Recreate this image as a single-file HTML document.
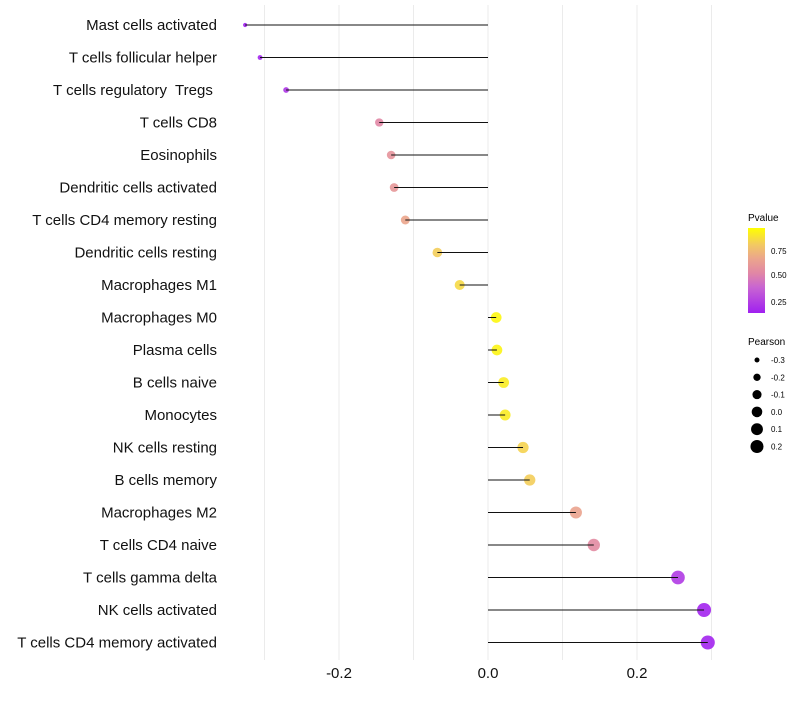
<!DOCTYPE html>
<html><head><meta charset="utf-8">
<style>
body{margin:0;background:#fff;font-family:"Liberation Sans",sans-serif;}
svg text{font-family:"Liberation Sans",sans-serif;white-space:pre;}
</style></head>
<body>
<svg id="chart" width="800" height="700" xmlns="http://www.w3.org/2000/svg">
<defs>
<linearGradient id="pg" x1="0" y1="1" x2="0" y2="0">
<stop offset="0" stop-color="#a020f0"/>
<stop offset="0.3" stop-color="#c864d2"/>
<stop offset="0.47" stop-color="#e187a5"/>
<stop offset="0.64" stop-color="#eba58c"/>
<stop offset="0.8" stop-color="#f2c864"/>
<stop offset="1" stop-color="#ffff00"/>
</linearGradient>
</defs>
<g id="grid"></g>
<g id="marks"></g>
<g id="ylabels"></g>
<g id="xlabels"></g>
<g>
<text x="748" y="221" font-size="10" fill="#000">Pvalue</text>
<rect x="748" y="228" width="17" height="85" fill="url(#pg)"/>
<text x="771" y="254" font-size="8" fill="#000">0.75</text>
<text x="771" y="278" font-size="8" fill="#000">0.50</text>
<text x="771" y="305" font-size="8" fill="#000">0.25</text>
</g>
<g id="sizeleg">
<text x="748" y="345" font-size="10" fill="#000">Pearson</text>
</g>
</svg>
<script>
const categories=["Mast cells activated","T cells follicular helper","T cells regulatory  Tregs ","T cells CD8","Eosinophils","Dendritic cells activated","T cells CD4 memory resting","Dendritic cells resting","Macrophages M1","Macrophages M0","Plasma cells","B cells naive","Monocytes","NK cells resting","B cells memory","Macrophages M2","T cells CD4 naive","T cells gamma delta","NK cells activated","T cells CD4 memory activated"];
const pearson=[-0.326,-0.306,-0.271,-0.146,-0.130,-0.126,-0.111,-0.068,-0.038,0.011,0.012,0.021,0.023,0.047,0.056,0.118,0.142,0.255,0.290,0.295];
const pvalue=[0.10,0.12,0.18,0.50,0.56,0.58,0.65,0.82,0.86,0.97,0.96,0.93,0.93,0.84,0.82,0.64,0.52,0.20,0.12,0.12];
const xTicks=[-0.2,0.0,0.2];
const gridVals=[-0.3,-0.2,-0.1,0,0.1,0.2,0.3];
const sizeLegend=[-0.3,-0.2,-0.1,0.0,0.1,0.2];

const NS="http://www.w3.org/2000/svg";
const x=v=>488+v*745;
const y=i=>25+i*32.5;
const r=v=>Math.sqrt(Math.max(3,28+72.6*v));
function col(p){
  const stops=[[0.1,[160,32,240]],[0.35,[200,100,210]],[0.5,[225,135,165]],[0.65,[235,165,140]],[0.8,[242,200,100]],[1.0,[255,255,0]]];
  p=Math.max(0.1,Math.min(1,p));
  for(let k=0;k<stops.length-1;k++){const a=stops[k],b=stops[k+1];
    if(p<=b[0]){const t=(p-a[0])/(b[0]-a[0]);return `rgb(${a[1].map((c,j)=>Math.round(c+(b[1][j]-c)*t)).join(',')})`;}}
  return "rgb(255,255,0)";
}
function mk(tag,attrs,parent){const e=document.createElementNS(NS,tag);for(const k in attrs)e.setAttribute(k,attrs[k]);parent.appendChild(e);return e;}
const grid=document.getElementById('grid'),marks=document.getElementById('marks'),yl=document.getElementById('ylabels'),xl=document.getElementById('xlabels'),sl=document.getElementById('sizeleg');
gridVals.forEach(v=>{const l=mk('line',{x1:x(v),x2:x(v),y1:5,y2:660,stroke:'#ebebeb','stroke-width':1},grid);

});
categories.forEach((c,i)=>{
  const d=mk('circle',{cx:x(pearson[i]),cy:y(i),r:r(pearson[i]),fill:col(pvalue[i]),'fill-opacity':0.9},marks);
  
  
  const l=mk('line',{x1:x(0),x2:x(pearson[i]),y1:y(i),y2:y(i),stroke:'#111','stroke-width':1},marks);
  
  
  const t=mk('text',{x:217,y:y(i)+5,'text-anchor':'end','font-size':15,fill:'#111'},yl);
  t.textContent=c;
  
  
});
xTicks.forEach(v=>{const t=mk('text',{x:x(v),y:678,'text-anchor':'middle','font-size':15,fill:'#111'},xl);
t.textContent=v.toFixed(1);

});
sizeLegend.forEach((v,i)=>{const cy=360+i*17.3;
const c=mk('circle',{cx:757,cy:cy,r:r(v),fill:'#000'},sl);


const t=mk('text',{x:771,y:cy+3,'font-size':8,fill:'#000'},sl);
t.textContent=v.toFixed(1);

});
</script>
</body></html>
